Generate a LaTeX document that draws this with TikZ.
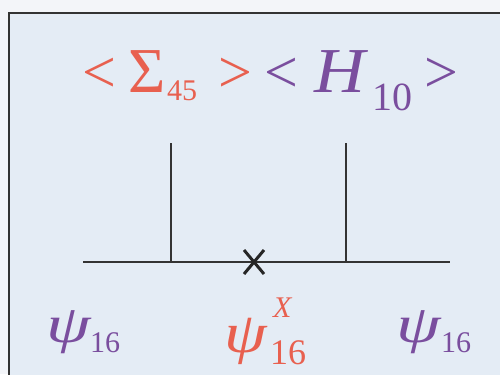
\documentclass[tikz,border=0pt]{standalone}
\usepackage{fontspec}
\setmainfont{Liberation Serif}
\usetikzlibrary{calc}
\definecolor{outerbg}{HTML}{F3F5F9}
\definecolor{innerbg}{HTML}{E4ECF5}
\definecolor{redtxt}{HTML}{E8604F}
\definecolor{purptxt}{HTML}{7A4E9E}
\definecolor{linec}{HTML}{333333}
\tikzset{
  txt/.style={inner sep=0pt, anchor=base west},
  fs/.style={font=\fontsize{#1bp}{#1bp}\selectfont},
  wire/.style={draw=linec, line width=1.3bp},
  crossline/.style={draw=black!85, line width=3bp},
}
\begin{document}
\begin{tikzpicture}[x=1bp,y=-1bp]
\useasboundingbox (0,0) rectangle (500,374);
\fill[outerbg] (0,0) rectangle (500,374);
\fill[innerbg] (9,13) rectangle (510,390);
\draw[draw=linec, line width=1.5bp] (9,390) -- (9,13) -- (510,13);
% top labels
\node[txt, fs=60, text=redtxt] (lt1) at (82,92) {<};
\node[txt, fs=64, text=redtxt] (sig) at (128,92) {Σ};
\node[txt, fs=30, text=redtxt] (s45) at (167,100) {45};
\node[txt, fs=60, text=redtxt] (gt1) at (218,92) {>};
\node[txt, fs=60, text=purptxt] (lt2) at (264,92) {<};
\node[txt, fs=64, text=purptxt, xscale=1.1] (H) at (314,92) {\itshape H};
\node[txt, fs=40, text=purptxt] (s10) at (372,110) {10};
\node[txt, fs=60, text=purptxt] (gt2) at (424,92) {>};
% diagram lines
\coordinate (hl) at (83,262);
\coordinate (hr) at (450,262);
\coordinate (v1t) at (171,143);
\coordinate (v1b) at (171,262);
\coordinate (v2t) at (346,143);
\coordinate (v2b) at (346,262);
\coordinate (x) at (254,262);
\draw[wire] (hl) -- (hr);
\draw[wire] (v1t) -- (v1b);
\draw[wire] (v2t) -- (v2b);
\draw[crossline] ($(x)+(-10,-12)$) -- ($(x)+(10,12)$);
\draw[crossline] ($(x)+(-10,12)$) -- ($(x)+(10,-12)$);
% bottom labels
\node[txt, fs=53, text=purptxt, xscale=1.35] (p1) at (46,342) {\itshape ψ};
\node[txt, fs=30, text=purptxt] (p1s) at (90,352) {16};
\node[txt, fs=57, text=redtxt, xscale=1.2] (p2) at (224,352) {\itshape ψ};
\node[txt, fs=30, text=redtxt] (p2x) at (273,317) {\itshape X};
\node[txt, fs=36, text=redtxt] (p2s) at (270,364) {16};
\node[txt, fs=53, text=purptxt, xscale=1.35] (p3) at (396,342) {\itshape ψ};
\node[txt, fs=30, text=purptxt] (p3s) at (441,352) {16};
\end{tikzpicture}
\end{document}
